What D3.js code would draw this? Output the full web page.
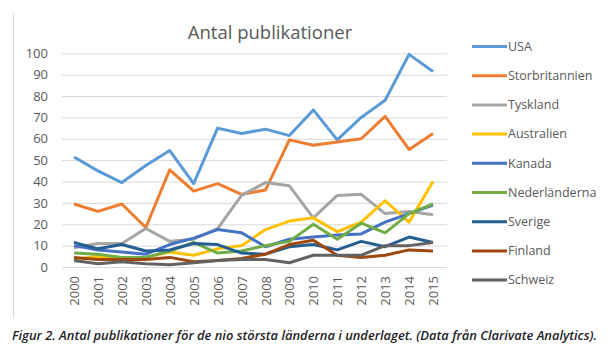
<!DOCTYPE html>
<html>
<head>
<meta charset="utf-8">
<script src="https://d3js.org/d3.v7.min.js"></script>
<style>
    body { margin: 0; background: #fff; }
    text { font-family: "Open Sans", "Liberation Sans", sans-serif; }
</style>
</head>
<body>
<svg id="chart" width="610" height="362"></svg>
<script>
/*jslint browser: true*/
/*global d3*/

// years along the x axis
var years = ['2000', '2001', '2002', '2003', '2004', '2005', '2006', '2007',
             '2008', '2009', '2010', '2011', '2012', '2013', '2014', '2015'];

var yTicks = [0, 10, 20, 30, 40, 50, 60, 70, 80, 90, 100];

var countries = ['USA', 'Storbritannien', 'Tyskland', 'Australien', 'Kanada',
                 'Nederländerna', 'Sverige', 'Finland', 'Schweiz'];

var colors = ['#5b9bd5', '#ed7d31', '#a5a5a5', '#ffc000', '#4472c4',
              '#70ad47', '#255e91', '#9e480e', '#636363'];

// one array per country
var usa = [51.5, 45, 39.5, 47.5, 54.5, 39, 65, 62.5, 64.5, 61.5, 73.5, 59.5, 70, 78, 99.5, 91.5];
var storbritannien = [29.5, 26, 29.5, 18.5, 45.5, 35.5, 39, 34, 36, 59.5, 57, 58.5, 60, 70.5, 55, 62.5];
var tyskland = [9, 11, 11, 18, 12, 13, 18, 33.5, 39.5, 38, 23, 33.5, 34, 25, 26, 24.5];
var australien = [3.5, 5, 4, 4.5, 7, 5.5, 8.5, 10, 17.5, 21.5, 23, 16.5, 21, 31, 21, 40];
var kanada = [10, 8, 7, 6, 10.5, 13.5, 17.5, 16, 9.5, 13, 14, 15, 15.5, 21, 25, 29];
var nederlanderna = [6.5, 6, 4.5, 4.5, 7.5, 11.5, 6.5, 7.5, 10, 12, 20, 13, 20.5, 16, 25, 29.5];
var sverige = [11.5, 8.5, 10.5, 7.5, 8, 11, 10.5, 6.5, 6, 9.5, 10.5, 8, 12, 9.5, 14, 11.5];
var finland = [4.5, 3.5, 3.5, 3.5, 4.5, 2.5, 3, 4, 6, 10.5, 12.5, 5.5, 4.5, 5.5, 8, 7.5];
var schweiz = [3, 1.5, 2.5, 1.5, 1, 2, 3, 3.5, 3.5, 2, 5.5, 5.5, 5.5, 10, 10, 11.5];

var seriesValues = [usa, storbritannien, tyskland, australien, kanada,
                    nederlanderna, sverige, finland, schweiz];

var svg = d3.select('#chart'),
    grey = '#595959',
    plotLeft = 62,
    plotRight = 447,
    // drawing order: Excel paints the first series underneath
    series = countries.map(function (name, i) {
        return { name: name, color: colors[i], values: seriesValues[i] };
    });

var x = d3.scalePoint()
    .domain(years)
    .range([74, 433]);

var y = d3.scaleLinear()
    .domain([0, 100])
    .range([267, 53.3]);

// faint frame edge on the left
svg.append('line')
    .attr('x1', 13.5).attr('x2', 13.5)
    .attr('y1', 13).attr('y2', 318)
    .attr('stroke', '#d9d9d9');

svg.append('text')
    .attr('x', 270)
    .attr('y', 39)
    .attr('text-anchor', 'middle')
    .attr('fill', grey)
    .attr('font-size', 18.5)
    .text('Antal publikationer');

// gridlines + y labels
var yAxis = d3.axisLeft(y)
    .tickValues(yTicks)
    .tickSize(-(plotRight - plotLeft))
    .tickPadding(14);

svg.append('g')
    .attr('transform', 'translate(' + plotLeft + ',0)')
    .call(yAxis)
    .call(function (g) {
        g.select('.domain').remove();
        g.selectAll('.tick line').attr('stroke', '#d9d9d9');
        g.selectAll('.tick text')
            .attr('fill', grey)
            .attr('font-size', 13);
    });

// rotated year labels
var xAxis = d3.axisBottom(x).tickSize(0).tickPadding(0);

svg.append('g')
    .attr('transform', 'translate(0,276)')
    .call(xAxis)
    .call(function (g) {
        g.select('.domain').remove();
        g.selectAll('.tick text')
            .attr('fill', grey)
            .attr('font-size', 13)
            .attr('text-anchor', 'end')
            .attr('dy', '0.35em')
            .attr('transform', 'rotate(-90)');
    });

var line = d3.line()
    .x(function (d, i) { return x(years[i]); })
    .y(function (d) { return y(d); });

svg.append('g')
    .selectAll('path')
    .data(series)
    .join('path')
    .attr('d', function (d) { return line(d.values); })
    .attr('fill', 'none')
    .attr('stroke', function (d) { return d.color; })
    .attr('stroke-width', 3)
    .attr('stroke-linejoin', 'round');

// legend on the right
var legend = svg.append('g')
    .selectAll('g')
    .data(series)
    .join('g')
    .attr('transform', function (d, i) {
        return 'translate(472,' + (46.5 + i * 29.2) + ')';
    });

legend.append('line')
    .attr('x1', 0).attr('x2', 35)
    .attr('stroke', function (d) { return d.color; })
    .attr('stroke-width', 3);

legend.append('text')
    .attr('x', 36)
    .attr('dy', '0.35em')
    .attr('fill', grey)
    .attr('font-size', 12.5)
    .text(function (d) { return d.name; });

svg.append('text')
    .attr('x', 12)
    .attr('y', 340)
    .attr('fill', '#1e1e28')
    .attr('font-size', 12)
    .attr('font-style', 'italic')
    .attr('font-weight', 600)
    .attr('textLength', 585)
    .attr('lengthAdjust', 'spacingAndGlyphs')
    .text('Figur 2. Antal publikationer för de nio största länderna i underlaget. (Data från Clarivate Analytics).');
</script>
</body>
</html>
